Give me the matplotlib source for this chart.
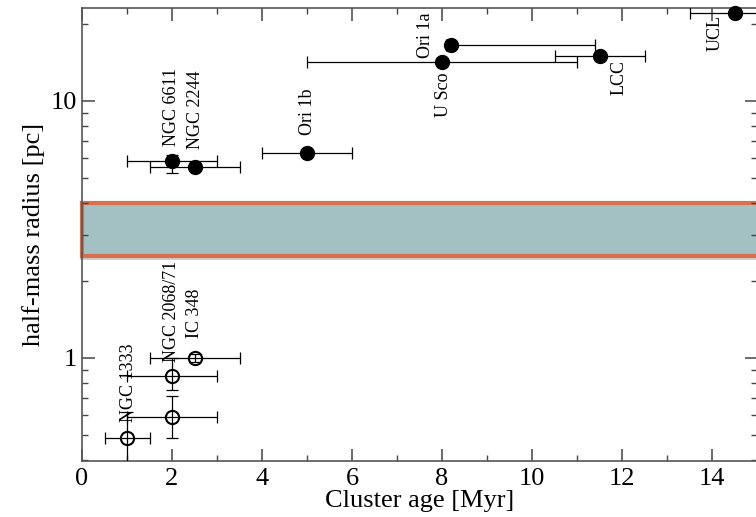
import numpy as np
import matplotlib
matplotlib.use("Agg")
import matplotlib.pyplot as plt
import matplotlib.patches as patches
import matplotlib.patheffects as pe
from matplotlib.ticker import LogLocator, MultipleLocator, FixedFormatter, FixedLocator

plt.rcParams['font.family'] = ['Liberation Serif', 'DejaVu Serif']

# exposed clusters (filled)
exp_names = ['NGC 6611', 'NGC 2244', 'Ori 1b', 'Ori 1a', 'U Sco', 'LCC', 'UCL']
exp_age = [2.0, 2.5, 5.0, 8.2, 8.0, 11.5, 14.5]
exp_r = [5.85, 5.55, 6.25, 16.5, 14.2, 14.9, 21.9]
exp_age_lo = [1.0, 1.0, 1.0, 0.12, 3.0, 1.0, 1.0]
exp_age_hi = [1.0, 1.0, 1.0, 3.2, 3.0, 1.0, 1.0]
exp_r_lo = [0.6, 0.0, 0.0, 0.0, 0.0, 0.0, 0.0]
exp_r_hi = [0.3, 0.0, 0.0, 0.0, 0.0, 0.0, 0.0]

# embedded clusters (open)
emb_names = ['NGC 1333', 'NGC 2068/71', '', 'IC 348']
emb_age = [1.0, 2.0, 2.0, 2.5]
emb_r = [0.487, 0.853, 0.588, 1.0]
emb_age_lo = [0.5, 1.0, 1.0, 1.0]
emb_age_hi = [0.5, 1.0, 1.0, 1.0]
emb_r_lo = [0.15, 0.10, 0.10, 0.04]
emb_r_hi = [0.13, 0.15, 0.12, 0.04]

# label offsets in points (dx, dy, va)
exp_off = [(0, 11, 'bottom'), (1, 13, 'bottom'), (0, 13, 'bottom'), (-18.5, -9.5, 'bottom'),
           (1.4, -7.5, 'top'), (14.4, -2.4, 'top'), (-13.7, -1.2, 'top')]
emb_off = [(1, 11.5, 'bottom'), (0, 10, 'bottom'), None, (0, 14.4, 'bottom')]

# band of bound clusters
band_lo, band_hi = 2.5, 4.0

fig = plt.figure(figsize=(7.56, 5.17), dpi=100)
ax = fig.add_axes([82/756, 56/517, 675/756, 453/517])
ax.set_yscale('log')
ax.set_xlim(0, 15.0)
ax.set_ylim(0.397, 23.0)

rect = patches.Rectangle((0, band_lo), 15.5, band_hi - band_lo,
                         facecolor='#a3c1c3', edgecolor='#d8704f', linewidth=3.0,
                         clip_on=False, zorder=1)
rect.set_path_effects([pe.SimplePatchShadow(offset=(-1.5, -3), shadow_rgbFace='#777777', alpha=0.35),
                       pe.Normal()])
ax.add_patch(rect)

ekw = dict(fmt='none', ecolor='black', elinewidth=0.9, capsize=4.5, capthick=0.9, zorder=3)
ax.errorbar(exp_age, exp_r, xerr=[exp_age_lo, exp_age_hi], yerr=[exp_r_lo, exp_r_hi], **ekw)
ax.errorbar(emb_age, emb_r, xerr=[emb_age_lo, emb_age_hi], yerr=[emb_r_lo, emb_r_hi], **ekw)
ax.plot(exp_age, exp_r, 'o', color='black', markersize=10, zorder=4, clip_on=False)
ax.plot(emb_age, emb_r, 'o', markerfacecolor='none', markeredgecolor='black',
        markeredgewidth=1.5, markersize=9.5, zorder=4)

for name, x, y, off in zip(exp_names, exp_age, exp_r, exp_off):
    ax.annotate(name, (x, y), xytext=off[:2], textcoords='offset points',
                rotation=90, ha='center', va=off[2], fontsize=13, zorder=5)
for name, x, y, off in zip(emb_names, emb_age, emb_r, emb_off):
    if off is None:
        continue
    ax.annotate(name, (x, y), xytext=off[:2], textcoords='offset points',
                rotation=90, ha='center', va=off[2], fontsize=13, zorder=5)

ax.xaxis.set_major_locator(MultipleLocator(2))
ax.xaxis.set_minor_locator(MultipleLocator(1))
ax.yaxis.set_major_locator(FixedLocator([1, 10]))
ax.yaxis.set_major_formatter(FixedFormatter(['1', '10']))
ax.yaxis.set_minor_locator(LogLocator(base=10, subs=np.arange(2, 10)))
ax.yaxis.set_minor_formatter(FixedFormatter([]))
ax.tick_params(which='both', direction='in', top=True, right=True, color='#444444',
               labelsize=19)
ax.tick_params(which='major', length=9, width=1.1)
ax.tick_params(which='minor', length=4.5, width=1.0)
ax.tick_params(axis='x', pad=5)
for s in ax.spines.values():
    s.set_color('#555555')
    s.set_linewidth(1.2)

ax.set_xlabel('Cluster age [Myr]', fontsize=19, labelpad=0)
ax.set_ylabel('half-mass radius [pc]', fontsize=19, labelpad=4)

fig.savefig('out.png', dpi=100)
